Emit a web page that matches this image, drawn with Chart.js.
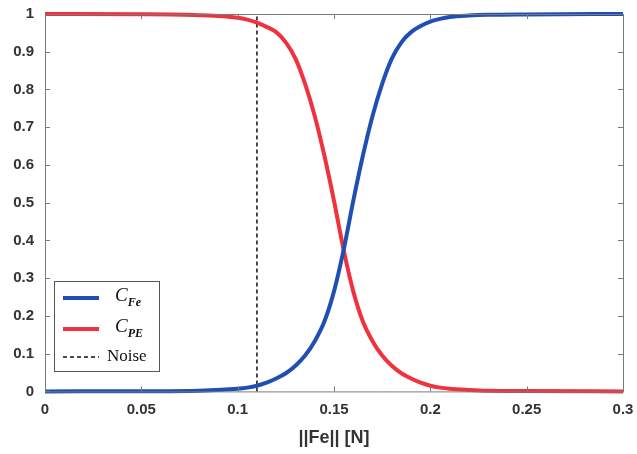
<!DOCTYPE html>
<html>
<head>
<meta charset="utf-8">
<script src="https://cdn.jsdelivr.net/npm/chart.js@4"></script>
<style>
    html, body { margin: 0; padding: 0; background: #fff; }
    #wrap { width: 637px; height: 454px; }
</style>
</head>
<body>
<div id="wrap"><canvas id="chart" width="637" height="454"></canvas></div>
<script>
(function () {
    'use strict';

    // force values ||Fe|| [N]
    var forceValues = [0, 0.05, 0.08, 0.1, 0.105, 0.11, 0.115, 0.12, 0.125, 0.13, 0.135, 0.14, 0.145, 0.15,
        0.155, 0.16, 0.165, 0.17, 0.175, 0.18, 0.185, 0.19, 0.195, 0.2, 0.205, 0.21, 0.22, 0.23, 0.25, 0.3];
    var cFe = [0, 0.0005, 0.002, 0.007, 0.01, 0.015, 0.023, 0.034, 0.048, 0.068, 0.095, 0.133, 0.185, 0.265,
        0.375, 0.505, 0.625, 0.73, 0.815, 0.882, 0.925, 0.952, 0.968, 0.98, 0.987, 0.992, 0.996, 0.998, 0.999, 1];
    var cPE = [1, 0.9995, 0.997, 0.99, 0.985, 0.977, 0.966, 0.952, 0.925, 0.882, 0.815, 0.73, 0.625, 0.505,
        0.375, 0.265, 0.185, 0.133, 0.095, 0.068, 0.048, 0.034, 0.023, 0.015, 0.01, 0.007, 0.004, 0.002, 0.001, 0];
    var noiseX = [0.11, 0.11];
    var noiseY = [0, 1];
    var xTicks = [0, 0.05, 0.1, 0.15, 0.2, 0.25, 0.3];
    var yTicks = [0, 0.1, 0.2, 0.3, 0.4, 0.5, 0.6, 0.7, 0.8, 0.9, 1];

    function toPoints(xs, ys) {
        return xs.map(function (x, i) { return {x: x, y: ys[i]}; });
    }

    var tickFont = {family: 'Liberation Sans, Arial, sans-serif', size: 15, weight: 'bold'};

    // box around the plot, inward tick marks and the floating legend
    var framePlugin = {
        id: 'frame',
        afterDraw: function (chart) {
            var ctx = chart.ctx;
            var a = chart.chartArea;
            var xs = chart.scales.x, ys = chart.scales.y;
            ctx.save();
            ctx.strokeStyle = '#7a7a7a';
            ctx.lineWidth = 1;
            ctx.strokeRect(a.left + 0.5, a.top + 0.5, a.right - a.left, a.bottom - a.top);
            ctx.beginPath();
            xTicks.forEach(function (v) {
                var px = Math.round(xs.getPixelForValue(v)) + 0.5;
                ctx.moveTo(px, a.bottom); ctx.lineTo(px, a.bottom - 5);
                ctx.moveTo(px, a.top); ctx.lineTo(px, a.top + 5);
            });
            yTicks.forEach(function (v) {
                var py = Math.round(ys.getPixelForValue(v)) + 0.5;
                ctx.moveTo(a.left, py); ctx.lineTo(a.left + 5, py);
                ctx.moveTo(a.right, py); ctx.lineTo(a.right - 5, py);
            });
            ctx.stroke();

            // legend
            var lx = a.left + 9, ly = 281, lw = 105, lh = 90;
            ctx.fillStyle = '#fff';
            ctx.fillRect(lx, ly, lw, lh);
            ctx.strokeStyle = '#555';
            ctx.strokeRect(lx + 0.5, ly + 0.5, lw, lh);

            var items = [
                {ds: chart.data.datasets[0], main: 'C', sub: 'Fe', y: ly + 17},
                {ds: chart.data.datasets[1], main: 'C', sub: 'PE', y: ly + 48},
                {ds: chart.data.datasets[2], main: 'Noise', sub: '', y: ly + 76}
            ];
            items.forEach(function (it) {
                ctx.beginPath();
                ctx.strokeStyle = it.ds.borderColor;
                ctx.lineWidth = it.sub ? 4 : 1.5;
                ctx.setLineDash(it.ds.borderDash || []);
                ctx.moveTo(lx + 9, it.y);
                ctx.lineTo(lx + 45, it.y);
                ctx.stroke();
                ctx.setLineDash([]);
                ctx.fillStyle = '#111';
                ctx.textBaseline = 'middle';
                ctx.textAlign = 'left';
                if (it.sub) {
                    ctx.font = 'italic 19px "Liberation Serif", "Times New Roman", serif';
                    ctx.fillText(it.main, lx + 61, it.y - 2);
                    var w = ctx.measureText(it.main).width;
                    ctx.font = 'italic bold 12px "Liberation Serif", "Times New Roman", serif';
                    ctx.fillText(it.sub, lx + 61 + w, it.y + 5);
                } else {
                    ctx.font = '17px "Liberation Serif", "Times New Roman", serif';
                    ctx.fillText(it.main, lx + 53, it.y);
                }
            });
            ctx.restore();
        }
    };

    new Chart(document.getElementById('chart'), {
        type: 'line',
        data: {
            datasets: [
                {
                    label: 'C_Fe',
                    data: toPoints(forceValues, cFe),
                    borderColor: '#1f4fb3',
                    borderWidth: 4,
                    pointRadius: 0,
                    cubicInterpolationMode: 'monotone'
                },
                {
                    label: 'C_PE',
                    data: toPoints(forceValues, cPE),
                    borderColor: '#f0323e',
                    borderWidth: 4,
                    pointRadius: 0,
                    cubicInterpolationMode: 'monotone'
                },
                {
                    label: 'Noise',
                    data: toPoints(noiseX, noiseY),
                    borderColor: '#111',
                    borderWidth: 1.5,
                    borderDash: [4, 3],
                    pointRadius: 0
                }
            ]
        },
        options: {
            responsive: false,
            animation: false,
            clip: false,
            layout: {autoPadding: false, padding: {top: 14, right: 14, left: 0, bottom: 5}},
            plugins: {
                legend: {display: false},
                tooltip: {enabled: false}
            },
            scales: {
                x: {
                    type: 'linear',
                    min: 0,
                    max: 0.3,
                    afterBuildTicks: function (axis) {
                        axis.ticks = xTicks.map(function (v) { return {value: v}; });
                    },
                    grid: {display: false, drawTicks: false},
                    border: {display: false},
                    ticks: {
                        color: '#333',
                        font: tickFont,
                        padding: 9,
                        maxRotation: 0,
                        callback: function (v) { return String(v); }
                    },
                    title: {
                        display: true,
                        text: '||Fe|| [N]',
                        color: '#333',
                        font: {family: 'Liberation Sans, Arial, sans-serif', size: 18, weight: 'bold'},
                        padding: {top: 0, bottom: 0}
                    },
                    afterFit: function (axis) { axis.paddingLeft = 0; axis.paddingRight = 0; }
                },
                y: {
                    min: 0,
                    max: 1,
                    afterBuildTicks: function (axis) {
                        axis.ticks = yTicks.map(function (v) { return {value: v}; });
                    },
                    grid: {display: false, drawTicks: false},
                    border: {display: false},
                    ticks: {
                        color: '#333',
                        font: tickFont,
                        padding: 11,
                        callback: function (v) { return String(v); }
                    },
                    afterFit: function (axis) {
                        axis.width = 45;
                        axis.paddingTop = 0;
                        axis.paddingBottom = 0;
                    }
                }
            }
        },
        plugins: [framePlugin]
    });
})();
</script>
</body>
</html>
